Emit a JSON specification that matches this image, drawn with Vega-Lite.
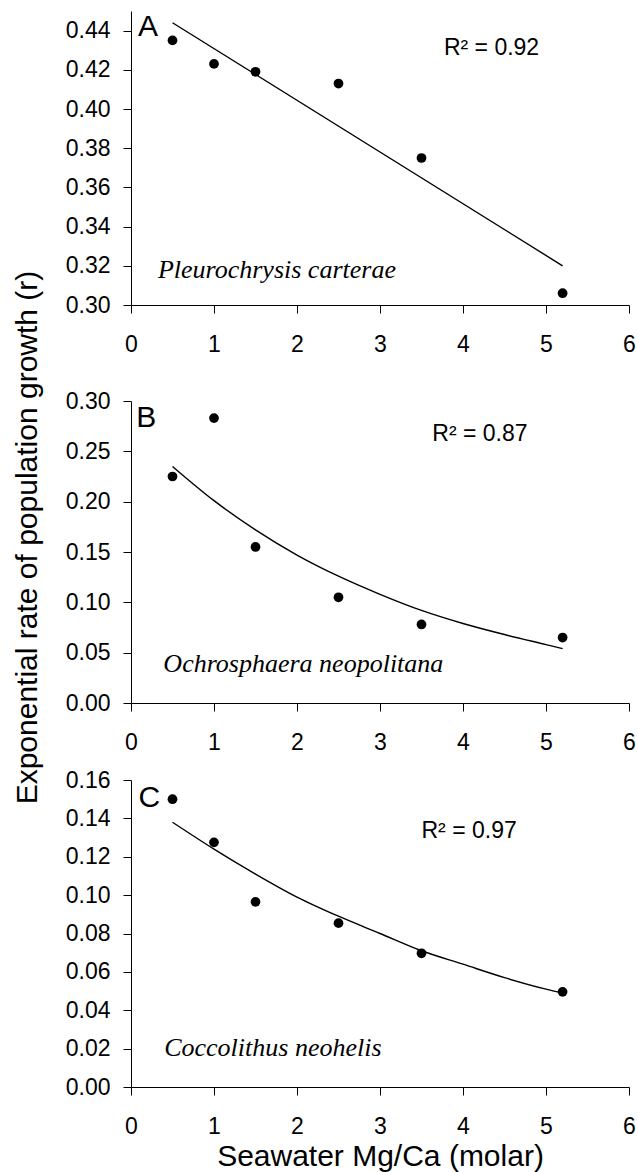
{
  "$schema": "https://vega.github.io/schema/vega-lite/v6.json",
  "background": "white",
  "padding": {"left": 11, "top": 11, "right": 5, "bottom": 5},
  "config": {
    "view": {"stroke": null},
    "font": "Liberation Sans",
    "axis": {
      "grid": false,
      "domainColor": "black",
      "tickColor": "black",
      "labelColor": "black",
      "titleColor": "black",
      "labelFont": "Liberation Sans",
      "titleFont": "Liberation Sans",
      "labelFontSize": 23,
      "titleFontSize": 30,
      "titleFontWeight": "normal",
      "tickSize": 8,
      "domainWidth": 1,
      "tickWidth": 1,
      "tickCount": 20,
      "labelOverlap": false,
      "labelFlush": false,
      "labelBound": false
    },
    "axisX": {"labelPadding": 20, "titlePadding": 3},
    "axisY": {"labelPadding": 13}
  },
  "datasets": {
    "ptsA": [
      {"x": 0.5, "r": 0.435}, {"x": 1, "r": 0.423}, {"x": 1.5, "r": 0.419},
      {"x": 2.5, "r": 0.413}, {"x": 3.5, "r": 0.375}, {"x": 5.2, "r": 0.306}
    ],
    "fitA": [{"x": 0.5, "r": 0.444}, {"x": 5.2, "r": 0.32}],
    "ptsB": [
      {"x": 0.5, "r": 0.225}, {"x": 1, "r": 0.283}, {"x": 1.5, "r": 0.155},
      {"x": 2.5, "r": 0.105}, {"x": 3.5, "r": 0.078}, {"x": 5.2, "r": 0.065}
    ],
    "fitB": [
      {"x": 0.5, "r": 0.235}, {"x": 1.0, "r": 0.201}, {"x": 1.5, "r": 0.172},
      {"x": 2.0, "r": 0.147}, {"x": 2.5, "r": 0.126}, {"x": 3.0, "r": 0.108},
      {"x": 3.5, "r": 0.092}, {"x": 4.0, "r": 0.079}, {"x": 4.5, "r": 0.068},
      {"x": 5.0, "r": 0.058}, {"x": 5.2, "r": 0.054}
    ],
    "ptsC": [
      {"x": 0.5, "r": 0.150}, {"x": 1, "r": 0.1275}, {"x": 1.5, "r": 0.0965},
      {"x": 2.5, "r": 0.0854}, {"x": 3.5, "r": 0.0697}, {"x": 5.2, "r": 0.0496}
    ],
    "fitC": [
      {"x": 0.5, "r": 0.138}, {"x": 1.0, "r": 0.124}, {"x": 1.5, "r": 0.111},
      {"x": 2.0, "r": 0.099}, {"x": 2.5, "r": 0.089}, {"x": 3.0, "r": 0.080},
      {"x": 3.5, "r": 0.071}, {"x": 4.0, "r": 0.064}, {"x": 4.5, "r": 0.057},
      {"x": 5.0, "r": 0.051}, {"x": 5.2, "r": 0.049}
    ]
  },
  "spacing": 96,
  "bounds": "flush",
  "vconcat": [
    {
      "width": 498,
      "height": 294,
      "layer": [
        {
          "data": {"name": "fitA"},
          "mark": {"type": "line", "color": "black", "strokeWidth": 1.4},
          "encoding": {
            "x": {"field": "x", "type": "quantitative", "scale": {"domain": [0, 6], "nice": false, "zero": false},
                  "axis": {"title": null, "values": [0, 1, 2, 3, 4, 5, 6], "format": "d"}},
            "y": {"field": "r", "type": "quantitative", "scale": {"domain": [0.30, 0.45], "nice": false, "zero": false},
                  "axis": {"title": null, "values": [0.30, 0.32, 0.34, 0.36, 0.38, 0.40, 0.42, 0.44], "format": ".2f"}}
          }
        },
        {
          "data": {"name": "ptsA"},
          "mark": {"type": "circle", "color": "black", "size": 95, "opacity": 1},
          "encoding": {
            "x": {"field": "x", "type": "quantitative"},
            "y": {"field": "r", "type": "quantitative"}
          }
        },
        {
          "data": {"values": [{}]},
          "mark": {"type": "text", "font": "Liberation Sans", "fontSize": 30, "align": "left", "baseline": "alphabetic", "color": "black"},
          "encoding": {"x": {"datum": 0.084, "type": "quantitative"}, "y": {"datum": 0.4371, "type": "quantitative"}, "text": {"value": "A"}}
        },
        {
          "data": {"values": [{}]},
          "mark": {"type": "text", "font": "Liberation Sans", "fontSize": 23, "align": "left", "baseline": "alphabetic", "color": "black"},
          "encoding": {"x": {"datum": 3.77, "type": "quantitative"}, "y": {"datum": 0.4277, "type": "quantitative"}, "text": {"value": "R² = 0.92"}}
        },
        {
          "data": {"values": [{}]},
          "mark": {"type": "text", "font": "Liberation Serif", "fontStyle": "italic", "fontSize": 26, "align": "left", "baseline": "alphabetic", "color": "black"},
          "encoding": {"x": {"datum": 0.324, "type": "quantitative"}, "y": {"datum": 0.314, "type": "quantitative"}, "text": {"value": "Pleurochrysis carterae"}}
        }
      ]
    },
    {
      "spacing": 77,
      "bounds": "flush",
      "vconcat": [
        {
          "width": 498,
          "height": 302,
          "layer": [
            {
              "data": {"name": "fitB"},
              "mark": {"type": "line", "color": "black", "strokeWidth": 1.4, "interpolate": "monotone"},
              "encoding": {
                "x": {"field": "x", "type": "quantitative", "scale": {"domain": [0, 6], "nice": false, "zero": false},
                      "axis": {"title": null, "values": [0, 1, 2, 3, 4, 5, 6], "format": "d"}},
                "y": {"field": "r", "type": "quantitative", "scale": {"domain": [0, 0.30], "nice": false},
                      "axis": {"title": "Exponential rate of  population growth (r)", "values": [0, 0.05, 0.10, 0.15, 0.20, 0.25, 0.30], "format": ".2f",
                               "titleX": -95, "titleY": 136, "titleAngle": 270, "titleAlign": "center", "titleBaseline": "alphabetic"}}
              }
            },
            {
              "data": {"name": "ptsB"},
              "mark": {"type": "circle", "color": "black", "size": 95, "opacity": 1},
              "encoding": {
                "x": {"field": "x", "type": "quantitative"},
                "y": {"field": "r", "type": "quantitative"}
              }
            },
            {
              "data": {"values": [{}]},
              "mark": {"type": "text", "font": "Liberation Sans", "fontSize": 30, "align": "left", "baseline": "alphabetic", "color": "black"},
              "encoding": {"x": {"datum": 0.064, "type": "quantitative"}, "y": {"datum": 0.2738, "type": "quantitative"}, "text": {"value": "B"}}
            },
            {
              "data": {"values": [{}]},
              "mark": {"type": "text", "font": "Liberation Sans", "fontSize": 23, "align": "left", "baseline": "alphabetic", "color": "black"},
              "encoding": {"x": {"datum": 3.63, "type": "quantitative"}, "y": {"datum": 0.2602, "type": "quantitative"}, "text": {"value": "R² = 0.87"}}
            },
            {
              "data": {"values": [{}]},
              "mark": {"type": "text", "font": "Liberation Serif", "fontStyle": "italic", "fontSize": 26, "align": "left", "baseline": "alphabetic", "color": "black"},
              "encoding": {"x": {"datum": 0.39, "type": "quantitative"}, "y": {"datum": 0.0308, "type": "quantitative"}, "text": {"value": "Ochrosphaera neopolitana"}}
            }
          ]
        },
        {
          "width": 498,
          "height": 307,
          "layer": [
            {
              "data": {"name": "fitC"},
              "mark": {"type": "line", "color": "black", "strokeWidth": 1.4, "interpolate": "monotone"},
              "encoding": {
                "x": {"field": "x", "type": "quantitative", "scale": {"domain": [0, 6], "nice": false, "zero": false},
                      "axis": {"title": "Seawater Mg/Ca (molar)", "values": [0, 1, 2, 3, 4, 5, 6], "format": "d"}},
                "y": {"field": "r", "type": "quantitative", "scale": {"domain": [0, 0.16], "nice": false},
                      "axis": {"title": null, "values": [0, 0.02, 0.04, 0.06, 0.08, 0.10, 0.12, 0.14, 0.16], "format": ".2f"}}
              }
            },
            {
              "data": {"name": "ptsC"},
              "mark": {"type": "circle", "color": "black", "size": 95, "opacity": 1},
              "encoding": {
                "x": {"field": "x", "type": "quantitative"},
                "y": {"field": "r", "type": "quantitative"}
              }
            },
            {
              "data": {"values": [{}]},
              "mark": {"type": "text", "font": "Liberation Sans", "fontSize": 30, "align": "left", "baseline": "alphabetic", "color": "black"},
              "encoding": {"x": {"datum": 0.09, "type": "quantitative"}, "y": {"datum": 0.1459, "type": "quantitative"}, "text": {"value": "C"}}
            },
            {
              "data": {"values": [{}]},
              "mark": {"type": "text", "font": "Liberation Sans", "fontSize": 23, "align": "left", "baseline": "alphabetic", "color": "black"},
              "encoding": {"x": {"datum": 3.5, "type": "quantitative"}, "y": {"datum": 0.1297, "type": "quantitative"}, "text": {"value": "R² = 0.97"}}
            },
            {
              "data": {"values": [{}]},
              "mark": {"type": "text", "font": "Liberation Serif", "fontStyle": "italic", "fontSize": 26, "align": "left", "baseline": "alphabetic", "color": "black"},
              "encoding": {"x": {"datum": 0.40, "type": "quantitative"}, "y": {"datum": 0.016, "type": "quantitative"}, "text": {"value": "Coccolithus neohelis"}}
            }
          ]
        }
      ]
    }
  ]
}
